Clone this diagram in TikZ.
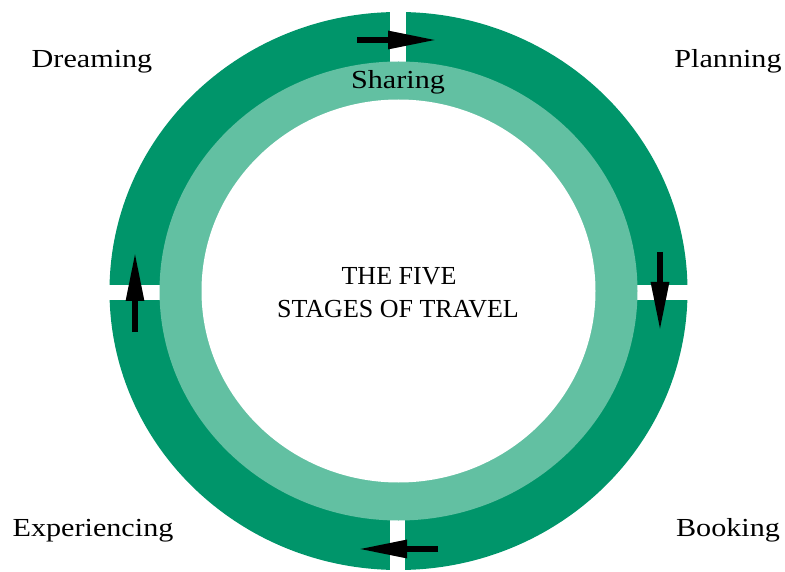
\documentclass[tikz,border=0pt]{standalone}
\usepackage{fontspec}
\setmainfont{Liberation Serif}
\newfontfamily\lblfont[FakeStretch=1.16]{Liberation Serif}
\usetikzlibrary{arrows.meta}
\definecolor{darkgreen}{HTML}{00956A}
\definecolor{lightgreen}{HTML}{62C0A2}
\tikzset{
  lbl/.style={anchor=base, inner sep=0pt, font=\lblfont\fontsize{26}{31}\selectfont},
  ctr/.style={anchor=base, inner sep=0pt, font=\fontsize{26}{31}\selectfont},
  flow/.style={line width=6pt, -{Triangle[length=49pt,width=17pt]}},
  gap/.style={fill=white}
}
\begin{document}
\begin{tikzpicture}[x=1pt,y=-1pt]
\useasboundingbox (0,0) rectangle (785,572);
\coordinate (c) at (398.5,291);
% outer dark ring
\fill[darkgreen] (c) ellipse [x radius=289pt, y radius=279pt];
% gaps in dark ring
\fill[gap] (390,0) rectangle (406,100);
\fill[gap] (390,480) rectangle (405,572);
\fill[gap] (100,285) rectangle (200,300);
\fill[gap] (600,285) rectangle (700,300);
% light ring
\fill[lightgreen] (c) ellipse [x radius=239pt, y radius=229.5pt];
% white centre
\fill[white] (c) ellipse [x radius=197pt, y radius=191.5pt];
% arrows
\coordinate (t1) at (357,40);  \coordinate (t2) at (437,40);
\coordinate (r1) at (660,252); \coordinate (r2) at (660,331);
\coordinate (b1) at (438,549); \coordinate (b2) at (358,549);
\coordinate (l1) at (135,332); \coordinate (l2) at (135,252);
\draw[flow] (t1) -- (t2);
\draw[flow] (r1) -- (r2);
\draw[flow] (b1) -- (b2);
\draw[flow] (l1) -- (l2);
% labels
\node[lbl] (dream) at (92,68) {Dreaming};
\node[lbl] (plan) at (728,68) {Planning};
\node[lbl] (exp) at (93,536) {Experiencing};
\node[lbl] (book) at (728,536) {Booking};
\node[lbl] (share) at (398,89) {Sharing};
\node[ctr] (title1) at (399,285) {THE FIVE};
\node[ctr] (title2) at (398,318) {STAGES OF TRAVEL};
\end{tikzpicture}
\end{document}
